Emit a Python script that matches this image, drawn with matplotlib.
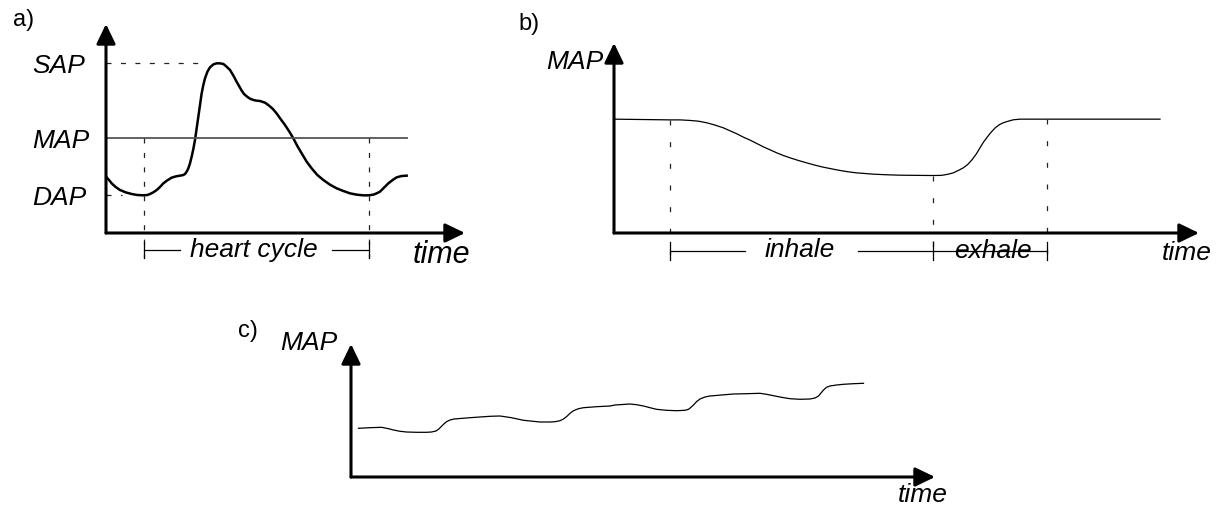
import matplotlib
matplotlib.use("Agg")
import matplotlib.pyplot as plt

plt.rcParams["font.family"] = ["Liberation Sans", "DejaVu Sans"]
plt.rcParams["lines.scale_dashes"] = False

# a) one heart beat: time in ms, arterial pressure in mmHg
beat_t = [0, 10.5, 19.8, 33.8, 49, 68.8, 89.8, 109.7, 130.7, 144.7, 154, 165.7, 177.3,
          189, 200.7, 214.7, 229.8, 245, 259, 270.7, 276.5, 282.3, 288.2, 294, 299.8,
          305.7, 311.5, 317.3, 323.2, 329, 334.8, 340.7, 346.5, 355, 364, 376, 387, 399,
          411, 422, 434, 446, 457, 467, 475, 483, 494, 504, 516, 527, 539, 556.5, 568,
          583, 597, 611, 626.5, 641.7, 655.7, 669.7, 684.8, 702.3, 719.8, 739.7, 760.7,
          784, 807.3, 830.7, 854, 877.3, 900.7, 918, 935.7, 947.3, 959, 973, 988.2,
          1003.3, 1017.3, 1034.8, 1052.3]
beat_p = [85.6, 84.6, 83.6, 82.5, 81.6, 80.9, 80.4, 80.1, 80.0, 80.1, 80.4, 80.9, 81.6,
          82.5, 83.6, 84.5, 85.3, 85.7, 85.9, 86.1, 86.4, 87.1, 88.1, 89.6, 91.6, 93.9,
          96.6, 100.1, 103.6, 107.1, 110.6, 113.1, 115.1, 117.1, 118.4, 119.3, 119.6,
          119.6, 119.4, 118.6, 117.6, 115.9, 114.1, 112.6, 111.4, 110.4, 109.6, 109.0,
          108.6, 108.4, 108.3, 107.8, 107.1, 106.0, 104.6, 102.9, 101.1, 99.1, 97.1,
          94.8, 92.6, 90.1, 88.1, 86.1, 84.6, 83.2, 82.1, 81.3, 80.6, 80.2, 80.0, 80.0,
          80.2, 80.6, 81.1, 82.3, 83.6, 84.6, 85.4, 85.8, 85.9]
sap, map_a, dap = 119.6, 97.1, 80.0
beat_start, beat_end = 133, 920

# b) one breath: time in s, MAP in mmHg
resp_t = [0.0, 0.56, 0.66, 0.76, 0.843, 0.927, 1.01, 1.093, 1.16, 1.227, 1.293, 1.36,
          1.427, 1.493, 1.56, 1.627, 1.693, 1.76, 1.843, 1.927, 2.01, 2.093, 2.177, 2.26,
          2.343, 2.427, 2.51, 2.593, 2.677, 2.76, 2.86, 3.193, 3.277, 3.343, 3.393, 3.443,
          3.493, 3.537, 3.577, 3.62, 3.66, 3.693, 3.727, 3.767, 3.81, 3.853, 3.893, 3.943,
          3.993, 4.06, 4.127, 5.46]
resp_p = [95.0, 94.91, 94.91, 94.84, 94.75, 94.55, 94.26, 93.92, 93.55, 93.18, 92.76,
          92.39, 91.97, 91.55, 91.18, 90.8, 90.47, 90.18, 89.85, 89.55, 89.26, 89.01, 88.8,
          88.6, 88.43, 88.3, 88.22, 88.14, 88.09, 88.05, 88.01, 87.97, 87.99, 88.14, 88.3,
          88.6, 88.93, 89.35, 89.89, 90.6, 91.43, 92.1, 92.68, 93.31, 93.89, 94.31, 94.55,
          94.75, 94.92, 95.0, 95.0, 95.0]
inhale_start, inhale_end, exhale_end = 0.56, 3.19, 4.33

# c) MAP drifting upwards with respiratory waves
drift_t = [0.15, 0.38, 0.61, 0.75, 0.85, 0.98, 1.11, 1.31, 1.51, 1.61, 1.70, 1.75, 1.79,
           1.85, 1.91, 1.98, 2.06, 2.38, 2.78, 2.98, 3.21, 3.45, 3.78, 3.98, 4.08, 4.18,
           4.25, 4.31, 4.38, 4.45, 4.55, 4.65, 4.91, 5.18, 5.28, 5.58, 5.71, 5.85, 5.98,
           6.11, 6.31, 6.51, 6.68, 6.75, 6.79, 6.85, 6.91, 6.98, 7.08, 7.18, 7.41, 7.65,
           7.91, 8.18, 8.31, 8.45, 8.61, 8.78, 8.98, 9.18, 9.28, 9.35, 9.40, 9.45, 9.51,
           9.58, 9.71, 9.85, 10.05, 10.25]
drift_p = [89.97, 90.03, 90.07, 89.93, 89.8, 89.67, 89.6, 89.57, 89.57, 89.6, 89.7,
           89.87, 90.07, 90.37, 90.63, 90.8, 90.9, 91.03, 91.17, 91.2, 91.03, 90.77, 90.6,
           90.6, 90.63, 90.73, 90.9, 91.13, 91.47, 91.73, 91.93, 92.03, 92.13, 92.2, 92.3,
           92.4, 92.33, 92.2, 92.03, 91.87, 91.77, 91.73, 91.77, 91.87, 92.03, 92.3,
           92.63, 92.9, 93.1, 93.2, 93.3, 93.4, 93.43, 93.47, 93.37, 93.23, 93.07, 92.93,
           92.87, 92.9, 93.0, 93.2, 93.5, 93.8, 94.07, 94.2, 94.3, 94.37, 94.43, 94.47]

W, H = 1221, 507
fig = plt.figure(figsize=(W / 100, H / 100), dpi=100)
FS = 19


def make_axes(left, top, right, bottom):
    ax = fig.add_axes([left / W, 1 - bottom / H, (right - left) / W, (bottom - top) / H])
    for s in ax.spines.values():
        s.set_visible(False)
    ax.set_xticks([])
    ax.set_yticks([])
    ax.patch.set_alpha(0)
    arrow = dict(arrowstyle="-|>,head_length=12,head_width=5.8", lw=2.2, color="black",
                 shrinkA=0, shrinkB=0, mutation_scale=1)
    ax.annotate("", xy=(1, 0), xytext=(0, 0), xycoords="axes fraction", arrowprops=arrow)
    ax.annotate("", xy=(0, 1), xytext=(0, 0), xycoords="axes fraction", arrowprops=arrow)
    return ax


def it(ax, x, y, s, size=FS, **kw):
    ax.text(x, y, s, fontsize=size, style="italic", **kw)


dash = (0, (3.6, 6.8))
dash_b = (0, (3.6, 12))
DC = "#222222"

# ---------- a)
ax = make_axes(106, 24, 465, 233)
ax.set_xlim(0, 1256.5)
ax.set_ylim(68.7, 131.4)
ax.plot(beat_t, beat_p, color="black", lw=1.8, solid_joinstyle="round")
ax.plot([0, 1053], [map_a, map_a], color="#555555", lw=1.3)
ax.plot([0, 329], [sap, sap], color=DC, lw=0.9, ls=dash)
ax.plot([0, 56], [dap, dap], color=DC, lw=0.9, ls=dash)
for t in (beat_start, beat_end):
    ax.plot([t, t], [map_a, 61.2], color=DC, lw=0.9, ls=dash, clip_on=False)
    ax.plot([t, t], [66.0, 61.2], color="black", lw=0.9, clip_on=False)
ax.plot([beat_start, 259], [63.6, 63.6], color="black", lw=0.9, clip_on=False)
ax.plot([791, beat_end], [63.6, 63.6], color="black", lw=0.9, clip_on=False)
it(ax, 516, 61.5, "heart cycle", ha="center", va="baseline")
it(ax, 1074, 59.7, "time", size=22, ha="left", va="baseline")
ax.set_yticks([sap, map_a, dap], ["SAP", "MAP", "DAP"])
ax.tick_params(axis="y", length=0, pad=53)
for lbl in ax.get_yticklabels():
    lbl.set_ha("left")
    lbl.set_fontsize(FS)
    lbl.set_style("italic")
fig.text(13 / W, 1 - 9 / H, "a)", fontsize=17, va="top", ha="left")

# ---------- b)
ax = make_axes(614, 43, 1199, 233)
ax.set_xlim(0, 5.85)
ax.set_ylim(80.8, 104.5)
ax.plot(resp_t, resp_p, color="black", lw=0.9, solid_joinstyle="round")
for t, p in zip((inhale_start, inhale_end, exhale_end), (94.9, 87.9, 95.0)):
    ax.plot([t, t], [p, 77.7], color=DC, lw=0.9, ls=dash_b, clip_on=False)
    ax.plot([t, t], [79.7, 77.4], color="black", lw=0.9, clip_on=False)
ax.plot([inhale_start, 1.31], [78.5, 78.5], color="black", lw=0.9, clip_on=False)
ax.plot([2.44, exhale_end], [78.5, 78.5], color="black", lw=0.9, clip_on=False)
it(ax, 1.86, 77.8, "inhale", ha="center", va="baseline")
it(ax, 3.785, 77.7, "exhale", ha="center", va="baseline")
it(ax, 5.48, 77.4, "time", ha="left", va="baseline")
it(ax, -0.11, 102.1, "MAP", ha="right", va="center")
fig.text(518 / W, 1 - 13 / H, "b)", fontsize=17, va="top", ha="left")

# ---------- c)
ax = make_axes(351, 344, 935, 477)
ax.set_xlim(0, 11.68)
ax.set_ylim(85.1, 98.4)
ax.plot(drift_t, drift_p, color="black", lw=0.9, solid_joinstyle="round")
it(ax, 10.94, 82.6, "time", ha="left", va="baseline")
it(ax, -0.28, 98.5, "MAP", ha="right", va="center")
fig.text(238 / W, 1 - 320 / H, "c)", fontsize=17, va="top", ha="left")

fig.savefig("out.png", dpi=100)
